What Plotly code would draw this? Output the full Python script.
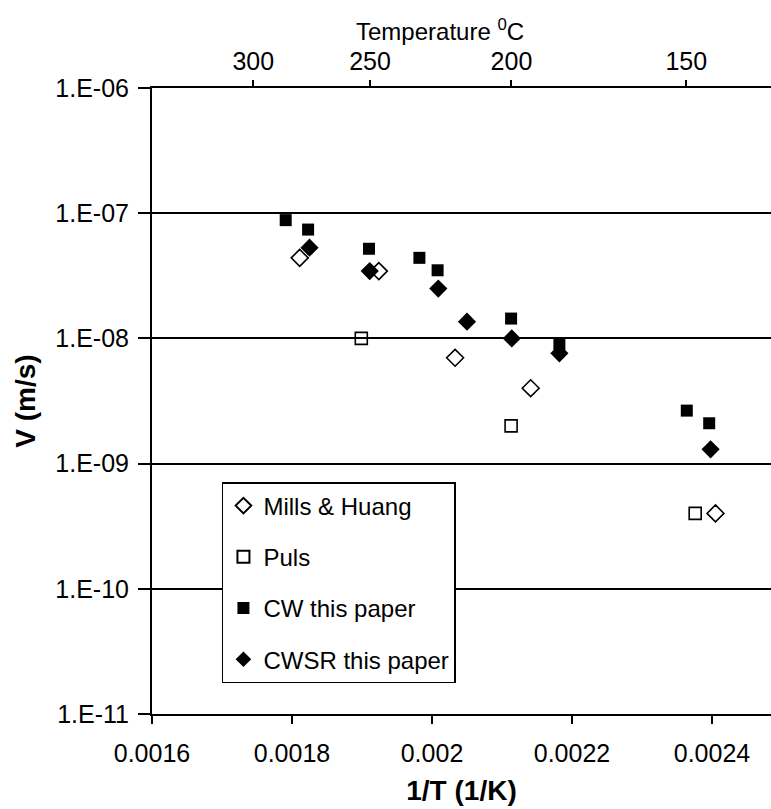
import plotly.graph_objects as go

# Crack velocity data, V (m/s) against reciprocal temperature 1/T (1/K)
mills_x = [0.001811, 0.001924, 0.002033, 0.002141, 0.002405]
mills_v = [4.4e-8, 3.45e-8, 7.0e-9, 4.0e-9, 4.0e-10]

puls_x = [0.001899, 0.002113, 0.002376]
puls_v = [1.0e-8, 2.0e-9, 4.0e-10]

cw_x = [0.001791, 0.001823, 0.001910, 0.001982, 0.002008, 0.002113, 0.002182, 0.002364, 0.002396]
cw_v = [8.8e-8, 7.4e-8, 5.2e-8, 4.4e-8, 3.5e-8, 1.44e-8, 9.0e-9, 2.65e-9, 2.1e-9]

cwsr_x = [0.001825, 0.001911, 0.002009, 0.002050, 0.002114, 0.002182, 0.002398]
cwsr_v = [5.3e-8, 3.45e-8, 2.5e-8, 1.36e-8, 1.0e-8, 7.6e-9, 1.3e-9]

# Axis ticks
x_ticks = [0.0016, 0.0018, 0.002, 0.0022, 0.0024]
x_tick_text = ["0.0016", "0.0018", "0.002", "0.0022", "0.0024"]
y_ticks = [1e-6, 1e-7, 1e-8, 1e-9, 1e-10, 1e-11]
y_tick_text = ["1.E-06", "1.E-07", "1.E-08", "1.E-09", "1.E-10", "1.E-11"]
temps_c = [300, 250, 200, 150]
temp_ticks = [1.0 / (t + 273.15) for t in temps_c]
temp_text = [str(t) for t in temps_c]

X_RANGE = [0.0016, 0.0024843]
FONT = "Liberation Sans, Arial, sans-serif"

fig = go.Figure()

series = [
    ("Mills &amp; Huang", mills_x, mills_v,
     dict(symbol="diamond-open", size=13, color="black", line=dict(color="black", width=1.6))),
    ("Puls", puls_x, puls_v,
     dict(symbol="square-open", size=12, color="black", line=dict(color="black", width=1.6))),
    ("CW this paper", cw_x, cw_v,
     dict(symbol="square", size=12, color="black")),
    ("CWSR this paper", cwsr_x, cwsr_v,
     dict(symbol="diamond", size=14, color="black")),
]
for i, (name, xs, vs, marker) in enumerate(series):
    fig.add_trace(go.Scatter(
        x=xs, y=vs, mode="markers", name=name, marker=marker,
        legendgroup=f"g{i}", xaxis="x", yaxis="y",
    ))

# invisible trace anchoring the temperature axis on top
fig.add_trace(go.Scatter(x=[X_RANGE[0]], y=[1e-8], mode="markers",
                         marker=dict(opacity=0), showlegend=False,
                         hoverinfo="skip", xaxis="x2", yaxis="y"))

tick_font = dict(family=FONT, size=25, color="black")

fig.update_layout(
    width=771, height=809,
    margin=dict(l=152, r=0, t=88, b=95),
    paper_bgcolor="white", plot_bgcolor="white",
    font=dict(family=FONT, size=24, color="black"),
    showlegend=True,
    legend=dict(
        x=0.113, y=0.3706, xanchor="left", yanchor="top",
        bgcolor="white", bordercolor="black", borderwidth=1.5,
        font=dict(family=FONT, size=24, color="black"),
        tracegroupgap=17, itemsizing="constant",
    ),
    xaxis=dict(
        range=X_RANGE, tickmode="array", tickvals=x_ticks, ticktext=x_tick_text,
        ticks="outside", ticklen=8, tickwidth=1.5, tickcolor="black",
        showline=True, linecolor="black", linewidth=2,
        showgrid=False, zeroline=False, tickfont=tick_font, ticklabelstandoff=8,
        title=dict(text="<b>1/T (1/K)</b>", font=dict(family=FONT, size=28, color="black"),
                   standoff=14),
    ),
    xaxis2=dict(
        range=X_RANGE, overlaying="x", side="top", anchor="y",
        tickmode="array", tickvals=temp_ticks, ticktext=temp_text,
        ticks="outside", ticklen=6, tickwidth=1.5, tickcolor="black",
        showline=True, linecolor="black", linewidth=2,
        showgrid=False, zeroline=False, tickfont=tick_font,
    ),
    xaxis3=dict(
        range=X_RANGE, overlaying="x", side="top", anchor="y",
        tickmode="array", tickvals=temp_ticks, ticks="inside", ticklen=6,
        tickwidth=1.5, tickcolor="black", showticklabels=False,
        showline=False, showgrid=False, zeroline=False,
    ),
    yaxis=dict(
        type="log", range=[-11, -6], tickmode="array", tickvals=y_ticks, ticktext=y_tick_text,
        ticks="outside", ticklen=12, tickwidth=1.5, tickcolor="black",
        showline=True, linecolor="black", linewidth=2,
        showgrid=True, gridcolor="black", gridwidth=1.5, zeroline=False,
        tickfont=tick_font, ticklabelstandoff=4,
        title=dict(text="<b>V (m/s)</b>", font=dict(family=FONT, size=28, color="black"),
                   standoff=12),
    ),
    yaxis2=dict(
        type="log", range=[-11, -6], overlaying="y", side="left", anchor="x",
        tickmode="array", tickvals=y_ticks, ticks="inside", ticklen=4,
        tickwidth=1.5, tickcolor="black", showticklabels=False,
        showline=False, showgrid=False, zeroline=False,
    ),
    annotations=[dict(
        text="Temperature <sup>0</sup>C", xref="paper", yref="paper",
        x=(440 - 152) / 619, y=1 + (88 - 30) / 626, xanchor="center", yanchor="middle",
        showarrow=False, font=dict(family=FONT, size=24, color="black"),
    )],
)

fig.write_html("out.html")
